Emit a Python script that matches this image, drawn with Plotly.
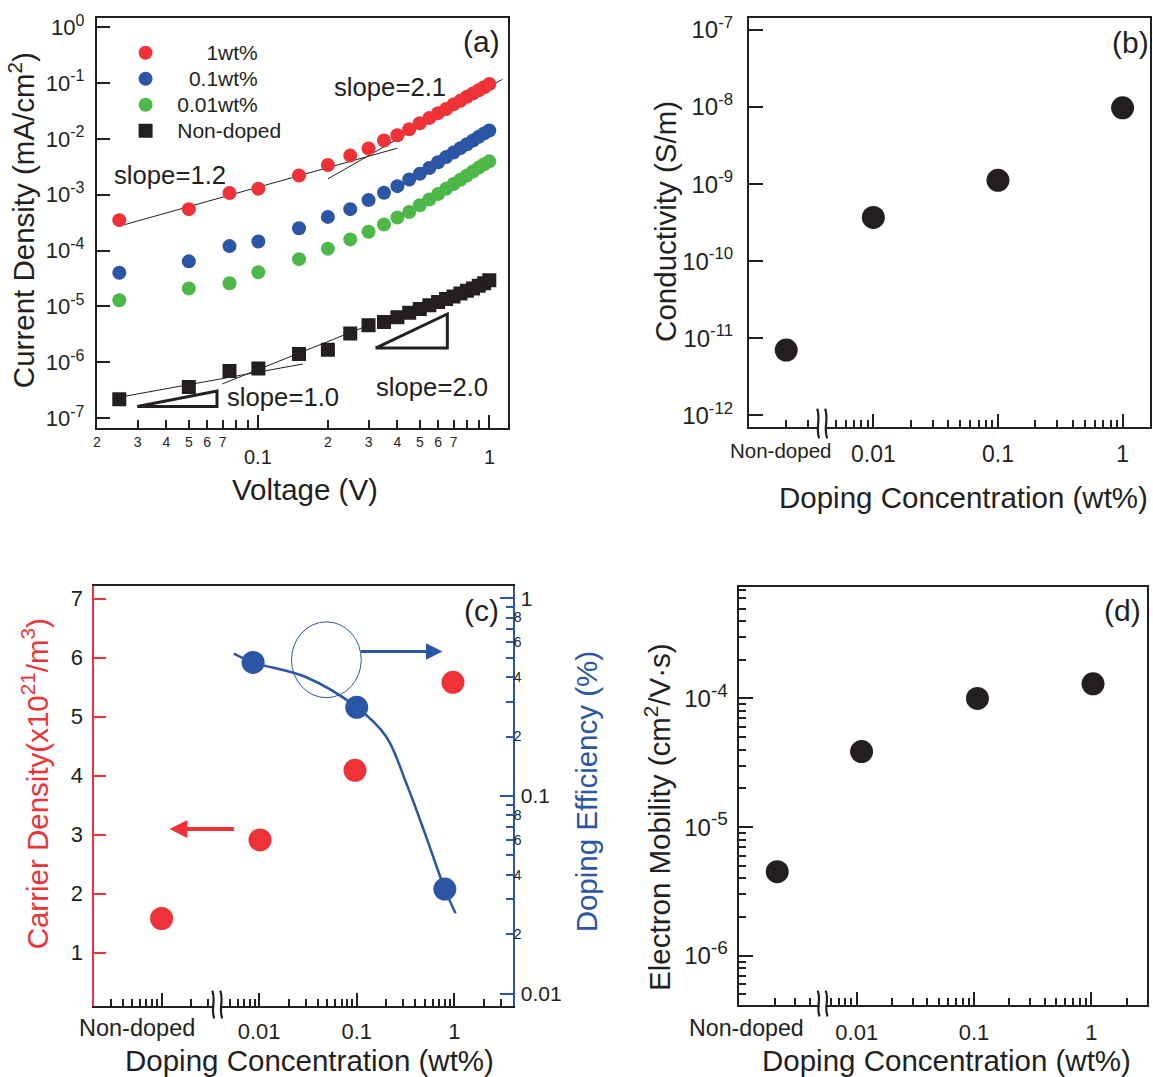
import math
import plotly.graph_objects as go

W, H = 1153, 1077
def px(x): return x / W
def py(y): return 1 - y / H

FONT = "Liberation Sans, Arial, Helvetica, sans-serif"
INK = "#231F20"
RED = "#EE3237"
BLUE = "#2B56A6"
GREEN = "#4DB848"

# ---------------- Panel (a) data ----------------
voltage = [0.025, 0.05, 0.075, 0.1, 0.15, 0.2, 0.25, 0.3, 0.35, 0.4, 0.45, 0.5,
           0.55, 0.6, 0.65, 0.7, 0.75, 0.8, 0.85, 0.9, 0.95, 1.0]
j_1wt = [3.5e-4, 5.5e-4, 1.07e-3, 1.28e-3, 2.2e-3, 3.4e-3, 5.0e-3, 6.7e-3, 9.3e-3, 0.0116, 0.0148, 0.019,
         0.0236, 0.0288, 0.034, 0.0413, 0.048, 0.0565, 0.065, 0.074, 0.084, 0.096]
j_01wt = [4.0e-5, 6.4e-5, 1.2e-4, 1.45e-4, 2.5e-4, 4.0e-4, 5.5e-4, 8.0e-4, 1.08e-3, 1.42e-3, 1.87e-3, 2.36e-3,
          3.0e-3, 3.8e-3, 4.7e-3, 5.7e-3, 6.8e-3, 8.0e-3, 9.3e-3, 0.0109, 0.0125, 0.0141]
j_001wt = [1.29e-5, 2.1e-5, 2.6e-5, 4.1e-5, 7.0e-5, 1.08e-4, 1.58e-4, 2.17e-4, 2.93e-4, 3.9e-4, 4.9e-4, 6.45e-4,
           8.2e-4, 1.03e-3, 1.27e-3, 1.55e-3, 1.85e-3, 2.2e-3, 2.6e-3, 3.05e-3, 3.5e-3, 3.95e-3]
j_nondoped = [2.17e-7, 3.6e-7, 7.0e-7, 7.7e-7, 1.4e-6, 1.67e-6, 3.27e-6, 4.6e-6, 5.25e-6, 6.4e-6, 7.7e-6, 9.0e-6,
              1.05e-5, 1.2e-5, 1.35e-5, 1.5e-5, 1.7e-5, 1.9e-5, 2.1e-5, 2.35e-5, 2.6e-5, 2.95e-5]
series_names = ["1wt%", "0.1wt%", "0.01wt%", "Non-doped"]

# fitted guide lines (a)
fit_red_low_v, fit_red_low_j = [0.0263, 0.4], [2.9e-4, 6.8e-3]
fit_red_high_v, fit_red_high_j = [0.2, 1.14], [1.92e-3, 0.116]
fit_nd_low_v, fit_nd_low_j = [0.0233, 0.156], [2.24e-7, 9.3e-7]
fit_nd_high_v, fit_nd_high_j = [0.07, 0.30], [4.1e-7, 4.6e-6]
# slope triangles (a)
tri1_v, tri1_j = [0.0299, 0.0662, 0.0662, 0.0299], [1.61e-7, 3.05e-7, 1.61e-7, 1.61e-7]
tri2_v, tri2_j = [0.322, 0.658, 0.658, 0.322], [1.795e-6, 7.3e-6, 1.795e-6, 1.795e-6]

a_xtickvals = [0.02, 0.03, 0.04, 0.05, 0.06, 0.07, 0.08, 0.09, 0.2, 0.3, 0.4, 0.5, 0.6, 0.7, 0.8, 0.9]
a_xticktext = ["2", "3", "4", "5", "6", "7", "", "", "2", "3", "4", "5", "6", "7", "", ""]
a_ytickvals = [1e-7, 1e-6, 1e-5, 1e-4, 1e-3, 1e-2, 1e-1, 1]
a_yexponents = ["-7", "-6", "-5", "-4", "-3", "-2", "-1", "0"]

# ---------------- Panel (b) data ----------------
doping_b = [0.002, 0.01, 0.1, 1.0]
conductivity = [7.0e-12, 3.7e-10, 1.12e-9, 9.8e-9]
b_ytickvals = [1e-12, 1e-11, 1e-10, 1e-9, 1e-8, 1e-7]
b_yexponents = ["-12", "-11", "-10", "-9", "-8", "-7"]

# ---------------- Panel (c) data ----------------
doping_c_carrier = [0.001, 0.0102, 0.096, 0.97]
carrier_density = [1.58, 2.91, 4.09, 5.58]
doping_c_eff = [0.00867, 0.1, 0.8]
doping_eff = [0.474, 0.281, 0.0338]
eff_curve_x = [0.0055, 0.0087, 0.03, 0.1, 0.2, 0.32, 0.51, 0.8, 1.03]
eff_curve_y = [0.525, 0.474, 0.40, 0.281, 0.2, 0.117, 0.063, 0.0338, 0.0255]

# ---------------- Panel (d) data ----------------
doping_d = [0.0021, 0.011, 0.107, 1.035]
mobility = [4.5e-6, 3.87e-5, 1.0e-4, 1.3e-4]
d_ytickvals = [1e-6, 1e-5, 1e-4]
d_yexponents = ["-6", "-5", "-4"]

conc_major = [0.01, 0.1, 1]
conc_major_text = ["0.01", "0.1", "1"]

def pow_labels(exps, sup_size=None):
    if sup_size is None:
        return ["10<sup>%s</sup>" % e for e in exps]
    return ['10<sup><span style="font-size:%dpx">%s</span></sup>' % (sup_size, e) for e in exps]

def decade_minors(decades):
    out = []
    for d in decades:
        for m in range(2, 10):
            out.append(round(m * d, 12))
    return out

fig = go.Figure()

# ---- (a) traces ----
for vx, vy in [(fit_red_low_v, fit_red_low_j), (fit_red_high_v, fit_red_high_j),
               (fit_nd_low_v, fit_nd_low_j), (fit_nd_high_v, fit_nd_high_j)]:
    fig.add_trace(go.Scatter(x=vx, y=vy, mode="lines", line=dict(color=INK, width=1),
                             showlegend=False, hoverinfo="skip", xaxis="x", yaxis="y"))
for vx, vy in [(tri1_v, tri1_j), (tri2_v, tri2_j)]:
    fig.add_trace(go.Scatter(x=vx, y=vy, mode="lines", line=dict(color=INK, width=3),
                             showlegend=False, hoverinfo="skip", xaxis="x", yaxis="y"))
pad = ["\u00a0" * 7, "\u00a0" * 4, "\u00a0" * 2, "\u00a0" * 2]
for name, ys, col, sym, p in zip(series_names, [j_1wt, j_01wt, j_001wt, j_nondoped],
                                 [RED, BLUE, GREEN, INK],
                                 ["circle", "circle", "circle", "square"], pad):
    fig.add_trace(go.Scatter(x=voltage, y=ys, mode="markers",
                             name='<span style="font-size:21px">' + p + name + "</span>",
                             marker=dict(color=col, size=14, symbol=sym, line=dict(width=0)),
                             xaxis="x", yaxis="y"))

# ---- (b) ----
fig.add_trace(go.Scatter(x=doping_b, y=conductivity, mode="markers", showlegend=False,
                         marker=dict(color=INK, size=23), xaxis="x2", yaxis="y2"))

# ---- (c) ----
fig.add_trace(go.Scatter(x=doping_c_carrier, y=carrier_density, mode="markers", showlegend=False,
                         marker=dict(color=RED, size=23), xaxis="x3", yaxis="y3"))
fig.add_trace(go.Scatter(x=eff_curve_x, y=eff_curve_y, mode="lines", showlegend=False,
                         line=dict(color=BLUE, width=2.5, shape="spline", smoothing=1.0),
                         hoverinfo="skip", xaxis="x3", yaxis="y4"))
fig.add_trace(go.Scatter(x=doping_c_eff, y=doping_eff, mode="markers", showlegend=False,
                         marker=dict(color=BLUE, size=23), xaxis="x3", yaxis="y4"))
fig.add_trace(go.Scatter(x=[], y=[], mode="markers", showlegend=False, xaxis="x3", yaxis="y6"))

# ---- (d) ----
fig.add_trace(go.Scatter(x=doping_d, y=mobility, mode="markers", showlegend=False,
                         marker=dict(color=INK, size=23), xaxis="x4", yaxis="y5"))


def ax(**kw):
    d = dict(showline=True, linecolor=INK, linewidth=1.6, mirror=True, ticks="inside",
             tickcolor=INK, tickwidth=1.5, showgrid=False, zeroline=False, tickmode="array",
             tickfont=dict(family=FONT, size=20, color=INK))
    d.update(kw)
    return d

def minor(vals, ln=7, col=INK):
    return dict(tickmode="array", tickvals=vals, ticks="inside", ticklen=ln, tickwidth=1.5,
                tickcolor=col, showgrid=False)

layout = dict(
    width=W, height=H, margin=dict(l=0, r=0, t=0, b=0),
    paper_bgcolor="white", plot_bgcolor="rgba(0,0,0,0)",
    font=dict(family=FONT, color=INK),
    showlegend=True,
    legend=dict(x=px(122), y=py(29), xanchor="left", yanchor="top", bgcolor="rgba(0,0,0,0)",
                font=dict(family=FONT, size=17.7, color=INK), tracegroupgap=0, itemwidth=30),
    # (a)
    xaxis=ax(type="log", domain=[px(93), px(506)], range=[-1.7, 0.082], anchor="y",
             tickvals=a_xtickvals, ticktext=a_xticktext, ticklen=8,
             tickfont=dict(family=FONT, size=14, color=INK), ticklabelstandoff=0,
             minor=minor([0.1, 1], 13)),
    yaxis=ax(type="log", domain=[py(425.7), py(11.7)], range=[-7.18, 0.17], anchor="x",
             tickvals=a_ytickvals, ticktext=pow_labels(a_yexponents, 16), ticklen=14,
             tickfont=dict(family=FONT, size=22, color=INK), ticklabelstandoff=6),
    # (b)
    xaxis2=ax(type="log", domain=[px(747.3), px(1150)], range=[-3.0, 0.22], anchor="y2",
              tickvals=conc_major, ticktext=conc_major_text, ticklen=13,
              tickfont=dict(family=FONT, size=23, color=INK), ticklabelstandoff=6,
              minor=minor([0.002, 0.003, 0.005, 0.006, 0.007, 0.008, 0.009]
                          + decade_minors([0.01, 0.1]))),
    yaxis2=ax(type="log", domain=[py(424.3), py(12.3)], range=[-12.15, -6.846], anchor="x2",
              tickvals=b_ytickvals, ticktext=pow_labels(b_yexponents), ticklen=14,
              tickfont=dict(family=FONT, size=24, color=INK), ticklabelstandoff=9),
    # (c)
    xaxis3=ax(type="log", domain=[px(90.6), px(510.6)], range=[-3.69, 0.6], anchor="y3",
              tickvals=[0.001] + conc_major, ticktext=[""] + conc_major_text, ticklen=13,
              tickfont=dict(family=FONT, size=22, color=INK), ticklabelstandoff=5,
              minor=minor([0.0003, 0.0004, 0.0005, 0.0006, 0.0007, 0.0008, 0.0009,
                           0.002, 0.003, 0.005, 0.006, 0.007, 0.008, 0.009]
                          + decade_minors([0.01, 0.1]) + [2, 3])),
    yaxis3=ax(type="linear", domain=[py(1008.3), py(585)], range=[0.1, 7.21], anchor="x3",
              side="left", mirror=False, linecolor=RED, tickcolor=RED,
              tickvals=[1, 2, 3, 4, 5, 6, 7], ticktext=["1", "2", "3", "4", "5", "6", "7"],
              ticklen=12, tickfont=dict(family=FONT, size=22, color=INK), ticklabelstandoff=5),
    yaxis4=ax(type="log", range=[-2.062, 0.062], anchor="x3", overlaying="y3", side="right",
              mirror=False, linecolor=BLUE, tickcolor=BLUE,
              tickvals=[0.01, 0.1, 1], ticktext=["0.01", "0.1", "1"], ticklen=13,
              tickfont=dict(family=FONT, size=21, color=INK), ticklabelstandoff=2,
              minor=minor(decade_minors([0.01, 0.1]), 7, BLUE)),
    yaxis6=dict(type="log", range=[-2.062, 0.062], anchor="x3", overlaying="y3", side="right",
                showline=False, ticks="", showgrid=False, zeroline=False, tickmode="array",
                tickvals=[0.02, 0.04, 0.06, 0.08, 0.2, 0.4, 0.6, 0.8],
                ticktext=["2", "4", "6", "8", "2", "4", "6", "8"],
                tickfont=dict(family=FONT, size=14, color=INK), ticklabelstandoff=0),
    # (d)
    xaxis4=ax(type="log", domain=[px(738), px(1147.2)], range=[-3.0, 0.477], anchor="y5",
              tickvals=conc_major, ticktext=conc_major_text, ticklen=13,
              tickfont=dict(family=FONT, size=22, color=INK), ticklabelstandoff=7,
              minor=minor([0.002, 0.003, 0.004, 0.006, 0.007, 0.008, 0.009]
                          + decade_minors([0.01, 0.1]) + [2, 3])),
    yaxis5=ax(type="log", domain=[py(1007.3), py(586)], range=[-6.382, -3.134], anchor="x4",
              tickvals=d_ytickvals, ticktext=pow_labels(d_yexponents, 19), ticklen=14,
              tickfont=dict(family=FONT, size=24, color=INK), ticklabelstandoff=5,
              minor=minor([5e-7, 6e-7, 7e-7, 8e-7, 9e-7] + decade_minors([1e-6, 1e-5])
                          + [2e-4, 3e-4, 4e-4, 5e-4, 6e-4, 7e-4])),
)
fig.update_layout(**layout)

ann = []
def text(x, y, s, size, color=INK, angle=0, xanchor="center", yanchor="middle", xref="paper", yref="paper"):
    ann.append(dict(x=x, y=y, xref=xref, yref=yref, text=s, showarrow=False, textangle=angle,
                    xanchor=xanchor, yanchor=yanchor, font=dict(family=FONT, size=size, color=color)))

TS = 29.5
# axis titles
text(px(17), py(216), "Current Density (mA/cm<sup>2</sup>)", TS, angle=-90)
text(px(302), py(488), "Voltage (V)", TS)
text(px(663), py(217), "Conductivity (S/m)", TS, angle=-90)
text(px(963), py(496), "Doping Concentration (wt%)", TS)
text(px(31), py(784), "Carrier Density(x10<sup>21</sup>/m<sup>3</sup>)", TS, color=RED, angle=-90)
text(px(584), py(792), "Doping Efficiency (%)", TS, color=BLUE, angle=-90)
text(px(307), py(1063), "Doping Concentration (wt%)", TS)
text(px(655), py(818), "Electron Mobility (cm<sup>2</sup>/V\u00b7s)", TS, angle=-90)
text(px(946), py(1063), "Doping Concentration (wt%)", TS)

# panel labels
text(px(479), py(36), "(a)", 30)
text(px(1130), py(37), "(b)", 30)
text(px(479), py(610), "(c)", 30)
text(px(1122), py(610), "(d)", 30)

# slope labels
text(px(167), py(170), "slope=1.2", 25.7)
text(px(387), py(82), "slope=2.1", 25.7)
text(px(280), py(394), "slope=1.0", 25.7)
text(px(429), py(384), "slope=2.0", 25.7)

# decade labels for (a)
text(math.log10(0.1), py(455), "0.1", 20, xref="x")
text(math.log10(1), py(455), "1", 20, xref="x")

# Non-doped labels
text(px(779), py(448), "Non-doped", 20.5)
text(px(133), py(1031), "Non-doped", 23.5)
text(px(745), py(1031), "Non-doped", 23.2)

# arrows in (c)
ann.append(dict(x=px(166), y=py(830), ax=66, ay=0, xref="paper", yref="paper",
                axref="pixel", ayref="pixel", text="", showarrow=True, arrowhead=2, arrowsize=0.9,
                arrowwidth=4, arrowcolor=RED))
ann.append(dict(x=px(440), y=py(651), ax=-83, ay=0, xref="paper", yref="paper",
                axref="pixel", ayref="pixel", text="", showarrow=True, arrowhead=2, arrowsize=1.1,
                arrowwidth=3, arrowcolor=BLUE))
fig.update_layout(annotations=ann)

shapes = []
shapes.append(dict(type="circle", xref="paper", yref="paper", x0=px(288.5), x1=px(358.5),
                   y0=py(697.5), y1=py(621), line=dict(color=BLUE, width=1)))

def axis_break(x1, x2, ytop, ybot, yaxis_px):
    shapes.append(dict(type="rect", xref="paper", yref="paper", x0=px(x1 + 1), x1=px(x2 - 1),
                       y0=py(yaxis_px + 5), y1=py(yaxis_px - 9), fillcolor="white",
                       line=dict(width=0), layer="above"))
    ym = (ytop + ybot) / 2
    for xx in (x1, x2):
        path = "M {:.5f},{:.5f} C {:.5f},{:.5f} {:.5f},{:.5f} {:.5f},{:.5f}".format(
            px(xx - 1), py(ytop), px(xx + 3), py(ym - 3), px(xx - 3), py(ym + 3), px(xx + 1), py(ybot))
        shapes.append(dict(type="path", xref="paper", yref="paper", path=path,
                           line=dict(color=INK, width=2.2), layer="above"))

axis_break(817, 825, 406, 436, 424.3)
axis_break(210, 218, 993, 1021, 1008.3)
axis_break(817.5, 825.5, 993, 1019, 1007.3)
fig.update_layout(shapes=shapes)

fig.write_html("out.html", config={"displayModeBar": False},
               post_script="document.body.style.margin='0px';document.body.style.overflow='hidden';")
